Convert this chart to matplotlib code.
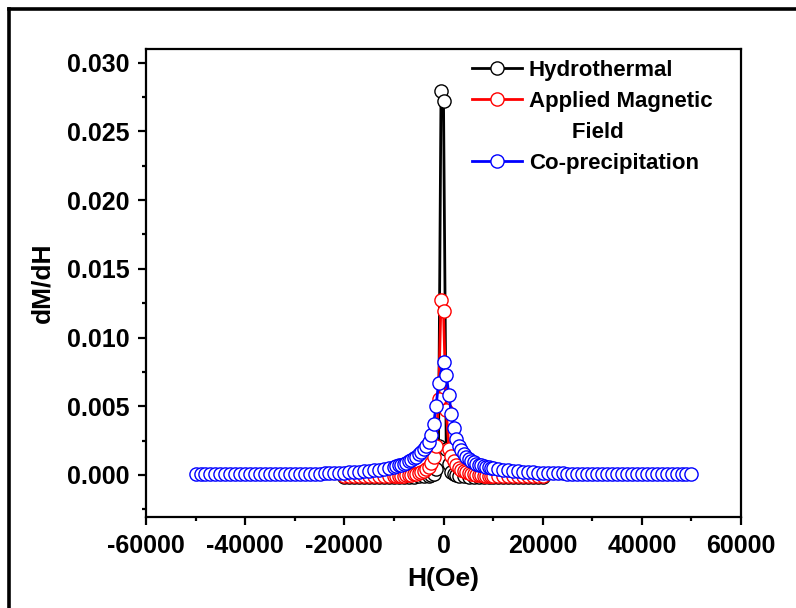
import numpy as np
import matplotlib.pyplot as plt
from matplotlib.lines import Line2D

plt.rcParams['font.family'] = ['Liberation Sans', 'DejaVu Sans']
plt.rcParams['font.weight'] = 'bold'
plt.rcParams['axes.unicode_minus'] = False

# Co-precipitation (blue)
h_blue = [-50000, -49000, -48000, -47000, -46000, -45000, -44000, -43000, -42000, -41000,
          -40000, -39000, -38000, -37000, -36000, -35000, -34000, -33000, -32000, -31000,
          -30000, -29000, -28000, -27000, -26000, -25000, -24000, -23000, -22000, -21000,
          -20000, -19000, -18000, -17000, -16000, -15000, -14000, -13000, -12000, -11000,
          -10000, -9500, -9000, -8500, -8000, -7500, -7000, -6500, -6000, -5500,
          -5000, -4500, -4000, -3500, -3000, -2500, -2000, -1500, -1000, 0,
          550, 1100, 1600, 2100, 2600, 3100, 3600, 4100, 4600, 5100,
          5600, 6100, 6600, 7100, 7600, 8100, 8600, 9100, 9600, 10000,
          11000, 12000, 13000, 14000, 15000, 16000, 17000, 18000, 19000, 20000,
          21000, 22000, 23000, 24000, 25000, 26000, 27000, 28000, 29000, 30000,
          31000, 32000, 33000, 34000, 35000, 36000, 37000, 38000, 39000, 40000,
          41000, 42000, 43000, 44000, 45000, 46000, 47000, 48000, 49000, 50000]
dm_blue = [0.00005, 0.00005, 0.00005, 0.00005, 0.00005, 0.00005, 0.00005, 0.00005, 0.00005, 0.00005,
           0.00005, 0.00005, 0.00005, 0.00006, 0.00006, 0.00006, 0.00006, 0.00006, 0.00007, 0.00007,
           0.00007, 0.00008, 0.00008, 0.00009, 0.00009, 0.00010, 0.00011, 0.00012, 0.00013, 0.00014,
           0.00016, 0.00018, 0.00020, 0.00023, 0.00026, 0.00030, 0.00034, 0.00039, 0.00045, 0.00050,
           0.00058, 0.00063, 0.00070, 0.00076, 0.00083, 0.00090, 0.00100, 0.00110, 0.00120, 0.00130,
           0.00150, 0.00170, 0.00190, 0.00210, 0.00240, 0.00290, 0.00370, 0.00500, 0.00670, 0.00825,
           0.00730, 0.00580, 0.00440, 0.00340, 0.00260, 0.00210, 0.00180, 0.00150, 0.00130, 0.00115,
           0.00102, 0.00092, 0.00083, 0.00076, 0.00070, 0.00064, 0.00059, 0.00055, 0.00051, 0.00048,
           0.00042, 0.00037, 0.00033, 0.00029, 0.00026, 0.00023, 0.00021, 0.00019, 0.00017, 0.00015,
           0.00014, 0.00013, 0.00012, 0.00011, 0.00010, 0.00009, 0.00009, 0.00008, 0.00008, 0.00007,
           0.00007, 0.00007, 0.00006, 0.00006, 0.00006, 0.00006, 0.00005, 0.00005, 0.00005, 0.00005,
           0.00005, 0.00005, 0.00005, 0.00005, 0.00005, 0.00005, 0.00005, 0.00005, 0.00005, 0.00005]

# Applied Magnetic Field (red)
h_red = [-20000, -19000, -18000, -17000, -16000, -15000, -14000, -13000, -12000, -11000,
         -10000, -9500, -9000, -8500, -8000, -7500, -7000, -6500, -6000, -5500,
         -5000, -4500, -4000, -3500, -3000, -2500, -2000, -1500, -1000, -500,
         0, 550, 1100, 1600, 2100, 2600, 3100, 3600, 4100, 4600,
         5100, 5600, 6100, 6600, 7100, 7600, 8100, 8600, 9100, 9600,
         10000, 11000, 12000, 13000, 14000, 15000, 16000, 17000, 18000, 19000, 20000]
dm_red = [-0.00010, -0.00010, -0.00010, -0.00010, -0.00010, -0.00010, -0.00010, -0.00010, -0.00010, -0.00010,
          -0.00010, -0.00009, -0.00008, -0.00006, -0.00005, -0.00003, 0.00000, 0.00003, 0.00006, 0.00009,
          0.00013, 0.00020, 0.00030, 0.00042, 0.00060, 0.00090, 0.00130, 0.00210, 0.00550, 0.01274,
          0.01190, 0.00470, 0.00190, 0.00140, 0.00100, 0.00070, 0.00050, 0.00036, 0.00026, 0.00018,
          0.00012, 0.00008, 0.00005, 0.00002, 0.00000, -0.00002, -0.00004, -0.00006, -0.00007, -0.00008,
          -0.00009, -0.00010, -0.00010, -0.00010, -0.00010, -0.00010, -0.00010, -0.00010, -0.00010, -0.00010, -0.00010]

# Hydrothermal (black)
h_black = [-20000, -19000, -18000, -17000, -16000, -15000, -14000, -13000, -12000, -11000,
           -10000, -9000, -8000, -7000, -6000, -5000, -4000, -3000, -2500, -2000,
           -1500, -1000, -500, 0, 550, 1100, 1600, 2100, 2600, 3100,
           4100, 5100, 6100, 7100, 8100, 9100, 10000, 11000, 12000, 13000,
           14000, 15000, 16000, 17000, 18000, 19000, 20000]
dm_black = [-0.00012, -0.00012, -0.00012, -0.00012, -0.00012, -0.00012, -0.00012, -0.00012, -0.00012, -0.00012,
            -0.00012, -0.00012, -0.00012, -0.00012, -0.00012, -0.00010, -0.00008, -0.00005, 0.00000, 0.00005,
            0.00040, 0.00210, 0.02795, 0.02718, 0.00190, 0.00080, 0.00025, 0.00005, -0.00003, -0.00006,
            -0.00010, -0.00012, -0.00012, -0.00012, -0.00012, -0.00012, -0.00012, -0.00012, -0.00012, -0.00012,
            -0.00012, -0.00012, -0.00012, -0.00012, -0.00012, -0.00012, -0.00012]

fig = plt.figure(figsize=(7.96, 6.08), dpi=100)
ax = fig.add_axes([146/796, 1-517/608, 595/796, 468/608])

style = dict(lw=2, ms=9.5, mfc='white', mew=1)
l_black, = ax.plot(h_black, dm_black, '-o', color='black', mec='black', **style)
l_red, = ax.plot(h_red, dm_red, '-o', color='red', mec='red', **style)
l_blue, = ax.plot(h_blue, dm_blue, '-o', color='blue', mec='blue', **style)

ax.set_xlim(-60000, 60000)
ax.set_ylim(-0.00306, 0.031)
ax.set_xticks(np.arange(-60000, 60001, 20000))
ax.set_xticks(np.arange(-50000, 60000, 20000), minor=True)
ax.set_yticks(np.arange(0, 0.0301, 0.005))
ax.set_yticks(np.arange(-0.0025, 0.031, 0.005), minor=True)
ax.set_yticklabels(['%.3f' % v for v in np.arange(0, 0.0301, 0.005)])

for s in ax.spines.values():
    s.set_linewidth(1.6)
ax.tick_params(which='major', direction='out', length=6, width=1.6, labelsize=18, pad=6)
ax.tick_params(which='minor', direction='out', length=3, width=1.6)

ax.set_xlabel('H(Oe)', fontsize=19, fontweight='bold', labelpad=7)
ax.set_ylabel('dM/dH', fontsize=19, fontweight='bold', labelpad=9)

blank = Line2D([], [], linestyle='none')
leg = ax.legend([l_black, l_red, blank, l_blue],
                ['Hydrothermal', 'Applied Magnetic', '       Field', 'Co-precipitation'],
                loc='upper left', bbox_to_anchor=(472/796, 1-60/608), bbox_transform=fig.transFigure,
                frameon=False, fontsize=16, handlelength=2.25, handletextpad=0.3,
                labelspacing=0.45, borderpad=0, borderaxespad=0, numpoints=1)

# outer frame (left and top edges)
fig.add_artist(Line2D([9/796, 9/796], [0, 1-9/608], color='black', lw=2.6, transform=fig.transFigure))
fig.add_artist(Line2D([9/796, 1], [1-9/608, 1-9/608], color='black', lw=2.6, transform=fig.transFigure))

fig.savefig('out.png', dpi=100)
